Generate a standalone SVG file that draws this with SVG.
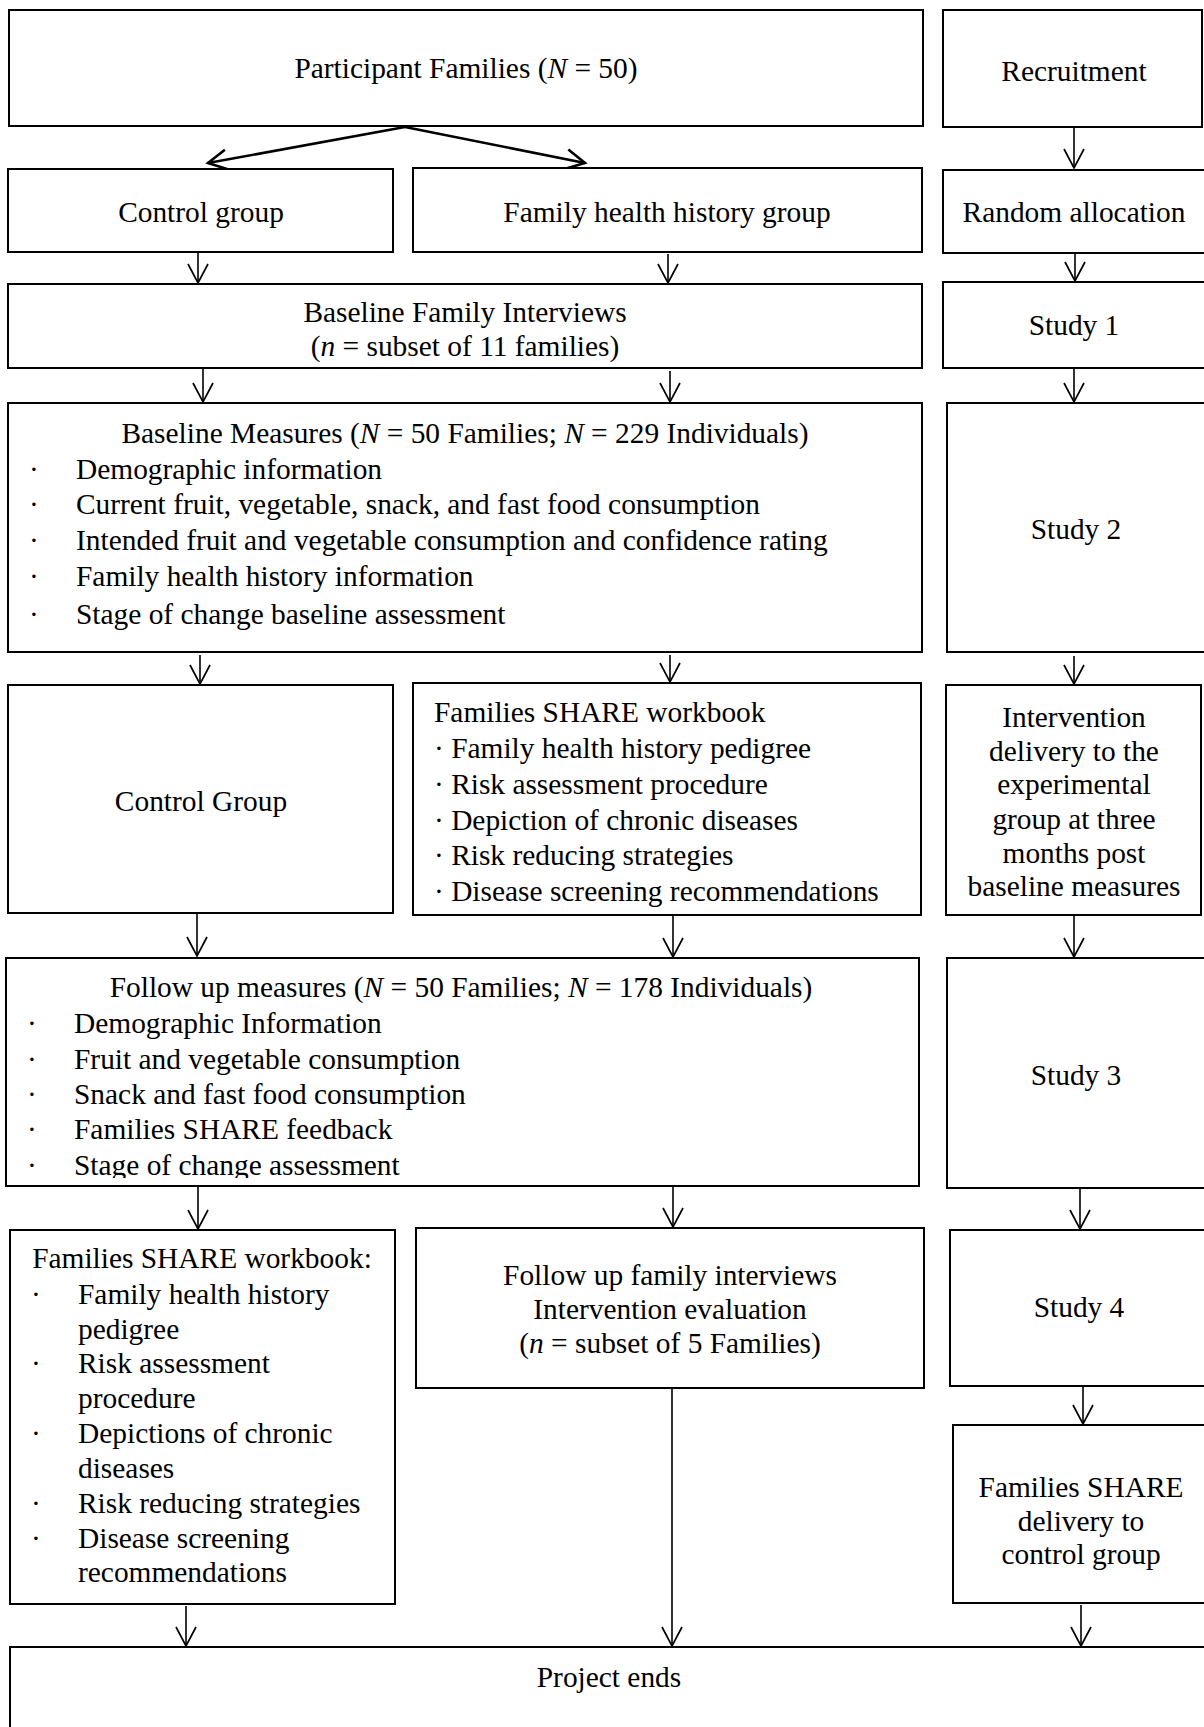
<svg xmlns="http://www.w3.org/2000/svg" width="1204" height="1727" viewBox="0 0 1204 1727">
<style>
  .box { fill: #fff; stroke: #000; stroke-width: 2; }
  .t { font-family: "Liberation Serif", "Times New Roman", serif; font-size: 29.4px; fill: #000; }
  .c { text-anchor: middle; }
  .i { font-style: italic; }
  .arr { fill: none; stroke: #000; stroke-width: 1.6; marker-end: url(#ah); }
  .arr2 { fill: none; stroke: #000; stroke-width: 2.6; marker-end: url(#ah2); }
</style>
<defs>
  <marker id="ah" markerUnits="userSpaceOnUse" markerWidth="24" markerHeight="24" viewBox="-2 -12 24 24" refX="19" refY="0" orient="auto">
    <path d="M0,-10 L19,0 L0,10" fill="none" stroke="#000" stroke-width="1.7"/>
  </marker>
  <marker id="ah2" markerUnits="userSpaceOnUse" markerWidth="28" markerHeight="28" viewBox="-2 -14 28 28" refX="19" refY="0" orient="auto">
    <path d="M0,-10 L19,0 L0,10" fill="none" stroke="#000" stroke-width="2.6"/>
  </marker>
  <clipPath id="fumclip"><rect x="0" y="950" width="930" height="228"/></clipPath>
</defs>
<rect width="1204" height="1727" fill="#fff"/>

<g id="connectors">
  <line class="arr2" x1="405" y1="127" x2="208" y2="163"/>
  <line class="arr2" x1="405" y1="127" x2="585" y2="163"/>
  <line class="arr" x1="1074" y1="127" x2="1074" y2="168"/>
  <line class="arr" x1="198" y1="253" x2="198" y2="283"/>
  <line class="arr" x1="668" y1="254" x2="668" y2="283"/>
  <line class="arr" x1="1075" y1="254" x2="1075" y2="281"/>
  <line class="arr" x1="203" y1="369" x2="203" y2="402"/>
  <line class="arr" x1="670" y1="371" x2="670" y2="402"/>
  <line class="arr" x1="1074" y1="369" x2="1074" y2="402"/>
  <line class="arr" x1="200" y1="655" x2="200" y2="684"/>
  <line class="arr" x1="670" y1="655" x2="670" y2="682"/>
  <line class="arr" x1="1074" y1="656" x2="1074" y2="684"/>
  <line class="arr" x1="197" y1="914" x2="197" y2="956"/>
  <line class="arr" x1="673" y1="916" x2="673" y2="957"/>
  <line class="arr" x1="1074" y1="916" x2="1074" y2="957"/>
  <line class="arr" x1="198" y1="1187" x2="198" y2="1229"/>
  <line class="arr" x1="673" y1="1187" x2="673" y2="1227"/>
  <line class="arr" x1="1080" y1="1189" x2="1080" y2="1229"/>
  <line class="arr" x1="1083" y1="1387" x2="1083" y2="1424"/>
  <line class="arr" x1="186" y1="1606" x2="186" y2="1646"/>
  <line class="arr" x1="672" y1="1389" x2="672" y2="1646"/>
  <line class="arr" x1="1081" y1="1605" x2="1081" y2="1646"/>
</g>

<g id="participant-families">
  <rect class="box" x="9" y="10" width="914" height="116"/>
  <text class="t c" x="466" y="78">Participant Families (<tspan class="i">N</tspan> = 50)</text>
</g>
<g id="recruitment">
  <rect class="box" x="943" y="10" width="259" height="117"/>
  <text class="t c" x="1074" y="81">Recruitment</text>
</g>
<g id="control-group-1">
  <rect class="box" x="8" y="169" width="385" height="83"/>
  <text class="t c" x="201" y="222">Control group</text>
</g>
<g id="fhh-group">
  <rect class="box" x="413" y="168" width="509" height="84"/>
  <text class="t c" x="667" y="222">Family health history group</text>
</g>
<g id="random-allocation">
  <rect class="box" x="943" y="170" width="267" height="83"/>
  <text class="t c" x="1074" y="222">Random allocation</text>
</g>
<g id="baseline-interviews">
  <rect class="box" x="8" y="284" width="914" height="84"/>
  <text class="t c" x="465" y="322">Baseline Family Interviews</text>
  <text class="t c" x="465" y="356">(<tspan class="i">n</tspan> = subset of 11 families)</text>
</g>
<g id="study-1">
  <rect class="box" x="943" y="282" width="267" height="86"/>
  <text class="t c" x="1074" y="335">Study 1</text>
</g>
<g id="baseline-measures">
  <rect class="box" x="8" y="403" width="914" height="249"/>
  <text class="t c" x="465" y="443">Baseline Measures (<tspan class="i">N</tspan> = 50 Families; <tspan class="i">N</tspan> = 229 Individuals)</text>
  <text class="t" x="29" y="479">·</text><text class="t" x="76" y="479">Demographic information</text>
  <text class="t" x="29" y="514">·</text><text class="t" x="76" y="514">Current fruit, vegetable, snack, and fast food consumption</text>
  <text class="t" x="29" y="550">·</text><text class="t" x="76" y="550">Intended fruit and vegetable consumption and confidence rating</text>
  <text class="t" x="29" y="586">·</text><text class="t" x="76" y="586">Family health history information</text>
  <text class="t" x="29" y="624">·</text><text class="t" x="76" y="624">Stage of change baseline assessment</text>
</g>
<g id="study-2">
  <rect class="box" x="947" y="403" width="263" height="249"/>
  <text class="t c" x="1076" y="539">Study 2</text>
</g>
<g id="control-group-2">
  <rect class="box" x="8" y="685" width="385" height="228"/>
  <text class="t c" x="201" y="811">Control Group</text>
</g>
<g id="share-workbook-1">
  <rect class="box" x="413" y="683" width="508" height="232"/>
  <text class="t" x="434" y="722">Families SHARE workbook</text>
  <text class="t" x="434" y="758">· Family health history pedigree</text>
  <text class="t" x="434" y="794">· Risk assessment procedure</text>
  <text class="t" x="434" y="830">· Depiction of chronic diseases</text>
  <text class="t" x="434" y="865">· Risk reducing strategies</text>
  <text class="t" x="434" y="901">· Disease screening recommendations</text>
</g>
<g id="intervention-delivery">
  <rect class="box" x="946" y="685" width="255" height="230"/>
  <text class="t c" x="1074" y="727">Intervention</text>
  <text class="t c" x="1074" y="761">delivery to the</text>
  <text class="t c" x="1074" y="794">experimental</text>
  <text class="t c" x="1074" y="829">group at three</text>
  <text class="t c" x="1074" y="863">months post</text>
  <text class="t c" x="1074" y="896">baseline measures</text>
</g>
<g id="follow-up-measures">
  <rect class="box" x="6" y="958" width="913" height="228"/>
  <text class="t c" x="461" y="997">Follow up measures (<tspan class="i">N</tspan> = 50 Families; <tspan class="i">N</tspan> = 178 Individuals)</text>
  <text class="t" x="27" y="1033">·</text><text class="t" x="74" y="1033">Demographic Information</text>
  <text class="t" x="27" y="1069">·</text><text class="t" x="74" y="1069">Fruit and vegetable consumption</text>
  <text class="t" x="27" y="1104">·</text><text class="t" x="74" y="1104">Snack and fast food consumption</text>
  <text class="t" x="27" y="1139">·</text><text class="t" x="74" y="1139">Families SHARE feedback</text>
  <g clip-path="url(#fumclip)">
    <text class="t" x="27" y="1175">·</text><text class="t" x="74" y="1175">Stage of change assessment</text>
  </g>
</g>
<g id="study-3">
  <rect class="box" x="947" y="958" width="263" height="230"/>
  <text class="t c" x="1076" y="1085">Study 3</text>
</g>
<g id="share-workbook-2">
  <rect class="box" x="10" y="1230" width="385" height="374"/>
  <text class="t c" x="202" y="1268">Families SHARE workbook:</text>
  <text class="t" x="31" y="1304">·</text><text class="t" x="78" y="1304">Family health history</text>
  <text class="t" x="78" y="1339">pedigree</text>
  <text class="t" x="31" y="1373">·</text><text class="t" x="78" y="1373">Risk assessment</text>
  <text class="t" x="78" y="1408">procedure</text>
  <text class="t" x="31" y="1443">·</text><text class="t" x="78" y="1443">Depictions of chronic</text>
  <text class="t" x="78" y="1478">diseases</text>
  <text class="t" x="31" y="1513">·</text><text class="t" x="78" y="1513">Risk reducing strategies</text>
  <text class="t" x="31" y="1548">·</text><text class="t" x="78" y="1548">Disease screening</text>
  <text class="t" x="78" y="1582">recommendations</text>
</g>
<g id="follow-up-interviews">
  <rect class="box" x="416" y="1228" width="508" height="160"/>
  <text class="t c" x="670" y="1285">Follow up family interviews</text>
  <text class="t c" x="670" y="1319">Intervention evaluation</text>
  <text class="t c" x="670" y="1353">(<tspan class="i">n</tspan> = subset of 5 Families)</text>
</g>
<g id="study-4">
  <rect class="box" x="950" y="1230" width="260" height="156"/>
  <text class="t c" x="1079" y="1317">Study 4</text>
</g>
<g id="share-delivery">
  <rect class="box" x="953" y="1425" width="257" height="178"/>
  <text class="t c" x="1081" y="1497">Families SHARE</text>
  <text class="t c" x="1081" y="1531">delivery to</text>
  <text class="t c" x="1081" y="1564">control group</text>
</g>
<g id="project-ends">
  <rect class="box" x="10" y="1647" width="1200" height="100"/>
  <text class="t c" x="609" y="1687">Project ends</text>
</g>
</svg>
